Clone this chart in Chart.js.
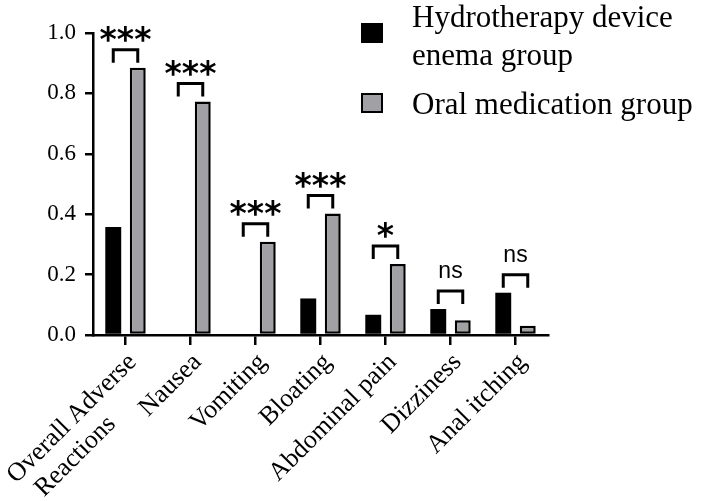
<!DOCTYPE html>
<html>
<head>
<meta charset="utf-8">
<script src="https://cdn.jsdelivr.net/npm/chart.js@4.4.1/dist/chart.umd.min.js"></script>
<style>
  html, body { margin: 0; padding: 0; background: #fff; }
  #wrap { width: 702px; height: 501px; }
</style>
</head>
<body>
<div id="wrap"><canvas id="grafica"></canvas></div>
<script>
// trailing spaces keep "Reactions" lined up under the start of the first line
const categorias = [["Overall Adverse", "Reactions" + " ".repeat(9)], "Nausea", "Vomiting", "Bloating", "Abdominal pain", "Dizziness", "Anal itching"];
const grupoEnema = [0.358, 0, 0, 0.121, 0.067, 0.086, 0.140];
const grupoOral = [0.885, 0.773, 0.309, 0.402, 0.235, 0.049, 0.031];
const significancia = ["***", "***", "***", "***", "*", "ns", "ns"];
const etiquetasLeyenda = [["Hydrotherapy device", "enema group"], ["Oral medication group"]];
const ticksY = [0, 0.2, 0.4, 0.6, 0.8, 1.0];

const SERIF = "'Liberation Serif', 'Times New Roman', serif";
const SANS = "'Liberation Sans', Arial, sans-serif";
const STARS = "'DejaVu Sans', sans-serif";

// brackets + stars above each pair of bars
const pluginSignificancia = {
  id: "significancia",
  afterDatasetsDraw(chart) {
    const ctx = chart.ctx;
    const m0 = chart.getDatasetMeta(0);
    const m1 = chart.getDatasetMeta(1);
    ctx.save();
    ctx.strokeStyle = "#000";
    ctx.lineWidth = 3;
    ctx.fillStyle = "#000";
    ctx.textAlign = "center";
    ctx.textBaseline = "alphabetic";
    significancia.forEach(function(txt, i) {
      const b0 = m0.data[i];
      const b1 = m1.data[i];
      const arriba = Math.min(b0.y, b1.y);
      const yTop = arriba - 18;
      const yPie = arriba - 5;
      ctx.beginPath();
      ctx.moveTo(b0.x, yPie);
      ctx.lineTo(b0.x, yTop);
      ctx.lineTo(b1.x, yTop);
      ctx.lineTo(b1.x, yPie);
      ctx.stroke();
      const cx = (b0.x + b1.x) / 2;
      if (txt === "ns") {
        ctx.font = "23px " + SANS;
        ctx.fillText(txt, cx, yTop - 13);
      } else {
        ctx.font = "bold 33px " + STARS;
        ctx.fillText(txt, cx, yTop + 1);
      }
    });
    ctx.restore();
  }
};

// legend drawn by hand (multi-line label)
const pluginLeyenda = {
  id: "leyendaManual",
  afterDraw(chart) {
    const ctx = chart.ctx;
    ctx.save();
    ctx.font = "31px " + SERIF;
    ctx.textAlign = "left";
    ctx.textBaseline = "alphabetic";
    const cajas = [23, 93];
    const bases = [[27, 65], [114]];
    chart.data.datasets.forEach(function(ds, i) {
      ctx.fillStyle = ds.backgroundColor;
      ctx.fillRect(361, cajas[i], 22, 20);
      if (ds.borderWidth > 0) {
        ctx.strokeStyle = ds.borderColor;
        ctx.lineWidth = 2;
        ctx.strokeRect(362, cajas[i] + 1, 20, 18);
      }
      ctx.fillStyle = "#000";
      etiquetasLeyenda[i].forEach(function(linea, j) {
        ctx.fillText(linea, 412, bases[i][j]);
      });
    });
    ctx.restore();
  }
};

new Chart(document.getElementById("grafica"), {
  type: "bar",
  data: {
    labels: categorias,
    datasets: [{
      label: "Hydrotherapy device enema group",
      data: grupoEnema,
      backgroundColor: "#000000",
      borderColor: "#000000",
      borderWidth: 0,
      categoryPercentage: 0.754,
      barPercentage: 0.65
    }, {
      label: "Oral medication group",
      data: grupoOral,
      backgroundColor: "#a1a1a5",
      borderColor: "#000000",
      borderWidth: 2.5,
      borderSkipped: false,
      categoryPercentage: 0.754,
      barPercentage: 0.65
    }]
  },
  options: {
    responsive: true,
    maintainAspectRatio: false,
    animation: false,
    layout: { padding: { top: 33, right: 154, left: 0, bottom: 0 } },
    plugins: {
      legend: { display: false },
      tooltip: { enabled: false }
    },
    scales: {
      x: {
        offset: true,
        grid: { display: true, offset: false, drawOnChartArea: false, drawTicks: true, tickLength: 10, color: "#000", lineWidth: 2.5 },
        border: { display: true, color: "#000", width: 2.5 },
        ticks: {
          color: "#000",
          font: { family: SERIF, size: 26, lineHeight: 1.12 },
          autoSkip: false,
          minRotation: 45,
          maxRotation: 45,
          padding: 3,
          labelOffset: 7
        },
        afterFit: function(scale) {
          scale.height = 166;
          // let the first rotated label hang past the left edge instead of squeezing the plot
          scale.paddingLeft = 0;
          scale.paddingRight = 0;
        }
      },
      y: {
        min: 0,
        max: 1,
        afterBuildTicks: function(scale) {
          scale.ticks = ticksY.map(function(v) { return { value: v }; });
        },
        grid: { display: true, drawOnChartArea: false, drawTicks: true, tickLength: 8, color: "#000", lineWidth: 2.5 },
        border: { display: true, color: "#000", width: 2.5 },
        ticks: {
          color: "#000",
          font: { family: SERIF, size: 23 },
          padding: 9,
          callback: function(v) { return Number(v).toFixed(1); }
        },
        afterFit: function(scale) { scale.width = 93; }
      }
    }
  },
  plugins: [pluginSignificancia, pluginLeyenda]
});
</script>
</body>
</html>
